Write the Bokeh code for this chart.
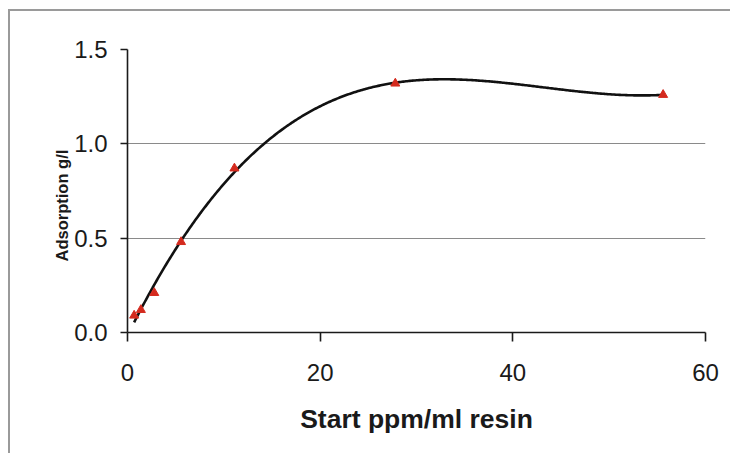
import numpy as np
from bokeh.plotting import figure
from bokeh.layouts import column
from bokeh.models import Range1d, FixedTicker, PrintfTickFormatter, Title
from bokeh.embed import file_html
from bokeh.resources import INLINE

# Data
start_ppm = [0.69, 1.39, 2.78, 5.56, 11.1, 27.8, 55.6]
adsorption = [0.09, 0.12, 0.21, 0.48, 0.87, 1.32, 1.26]
x_ticks = [0, 20, 40, 60]
y_ticks = [0.0, 0.5, 1.0, 1.5]
x_title = "Start ppm/ml resin"
y_title = "Adsorption g/l"

# Polynomial trendline (order 3) fitted to the measured points
coef = np.polyfit(start_ppm, adsorption, 3)
tx = np.linspace(min(start_ppm), max(start_ppm), 400)
ty = np.polyval(coef, tx)

p = figure(width=720, height=442, output_backend="svg", toolbar_location=None,
           x_range=Range1d(0, 60), y_range=Range1d(0, 1.5),
           min_border_left=117, min_border_right=25, min_border_top=38, min_border_bottom=121)
p.outline_line_color = None
p.background_fill_color = "white"
p.border_fill_color = "white"

p.xgrid.visible = False
p.ygrid.ticker = FixedTicker(ticks=[0.5, 1.0])
p.ygrid.grid_line_color = "#8a8a8a"
p.ygrid.grid_line_width = 1.2

for ax in (p.xaxis[0], p.yaxis[0]):
    ax.axis_line_color = "#1a1a1a"
    ax.axis_line_width = 1.6
    ax.major_tick_line_color = "#1a1a1a"
    ax.major_tick_line_width = 1.6
    ax.major_tick_in = 0
    ax.minor_tick_line_color = None
    ax.major_label_text_font = "Liberation Sans"
    ax.major_label_text_font_size = "24px"
    ax.major_label_text_color = "#1a1a1a"

p.xaxis.ticker = FixedTicker(ticks=x_ticks)
p.xaxis.major_tick_out = 9
p.xaxis.major_label_standoff = 22
p.xaxis.axis_label = x_title
p.xaxis.axis_label_text_font = "Liberation Sans"
p.xaxis.axis_label_text_font_style = "bold"
p.xaxis.axis_label_text_font_size = "26.5px"
p.xaxis.axis_label_text_color = "#1a1a1a"
p.xaxis.axis_label_standoff = 20

p.yaxis.ticker = FixedTicker(ticks=y_ticks)
p.yaxis.formatter = PrintfTickFormatter(format="%.1f")
p.yaxis.major_tick_out = 7
p.yaxis.major_label_standoff = 13

p.add_layout(Title(text=y_title, align="left", offset=71, standoff=1,
                   text_font="Liberation Sans", text_font_style="bold",
                   text_font_size="16.5px", text_color="#1a1a1a"), "left")

p.line(tx, ty, line_color="#111111", line_width=2.6)
p.scatter(start_ppm, adsorption, marker="triangle", size=9, fill_color="#d42a1e", line_color="#d42a1e")

layout = column(p, margin=(9, 0, 0, 8),
                styles={"border-left": "2px solid #9a9a9a", "border-top": "2px solid #9a9a9a"})

open("out.html", "w").write(file_html(layout, INLINE))
